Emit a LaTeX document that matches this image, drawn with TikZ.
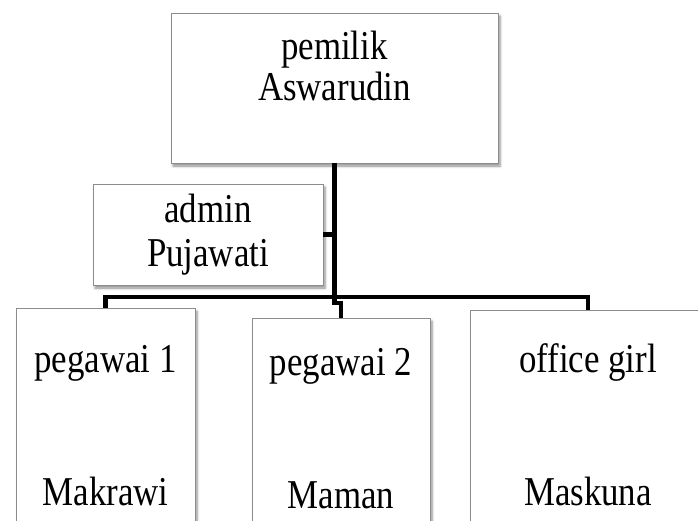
\documentclass[tikz,border=0pt]{standalone}
\usepackage{fontspec}
\setmainfont{Liberation Serif}[FakeStretch=0.85]
\usetikzlibrary{shadows.blur}

\begin{document}
\begin{tikzpicture}
  [x=1pt,y=-1pt,
   unit/.style={draw=black!45,fill=white,align=center,inner sep=0pt,
     font=\fontsize{41}{41}\selectfont,
     blur shadow={shadow xshift=2pt,shadow yshift=-3pt,shadow blur radius=2.5pt,
       shadow opacity=45,shadow blur steps=6}},
   link/.style={line width=4.5pt}]
  \useasboundingbox (0,0) rectangle (698,520);
  \clip (0,0) rectangle (698,520);

  \node[unit,minimum width=327pt,minimum height=150pt] (pemilik) at (334.5,88) {pemilik\\Aswarudin\\[-8pt]\strut};
  \node[unit,minimum width=230pt,minimum height=101pt] (admin) at (208,234.5) {admin\\[3pt]Pujawati};
  \node[unit,anchor=north,minimum width=179pt,minimum height=234pt] (p1) at (105.5,308) {pegawai 1\\[92pt]Makrawi};
  \node[unit,anchor=north,minimum width=178pt,minimum height=220pt] (p2) at (341,318) {pegawai 2\\[92pt]Maman};
  \node[unit,anchor=north,minimum width=236pt,minimum height=230pt] (og) at (588,310) {office girl\\[92pt]Maskuna};
  \coordinate (j) at (334.5,297);
  \coordinate (k) at (334.5,303);

  \draw[link] (pemilik.south) -- (k) -| (p2.north);
  \draw[link] (admin.east) -| (pemilik.south);
  \foreach \to in {p1,og}
    \draw[link] (j) -| (\to.north);

\end{tikzpicture}
\end{document}
